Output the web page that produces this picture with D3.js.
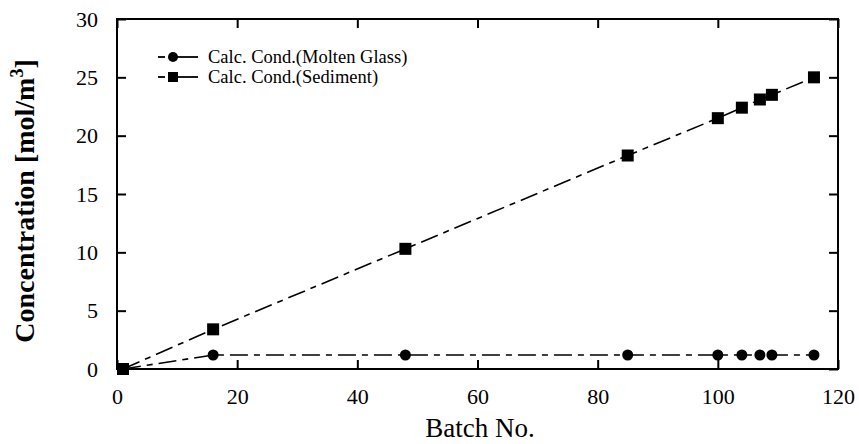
<!DOCTYPE html>
<html>
<head>
<meta charset="utf-8">
<script src="https://cdn.jsdelivr.net/npm/d3@7"></script>
<style>
  html, body { margin: 0; padding: 0; background: #fff; }
  svg { display: block; font-family: "Liberation Serif", "Times New Roman", serif; }
</style>
</head>
<body>
<svg id="chart" width="859" height="444"></svg>
<script>
// Batch numbers at which concentrations were calculated
const batches = [1, 16, 48, 85, 100, 104, 107, 109, 116];
// Calculated concentration in molten glass [mol/m3]
const moltenGlass = [0, 1.2, 1.2, 1.2, 1.2, 1.2, 1.2, 1.2, 1.2];
// Calculated concentration in sediment [mol/m3]
const sediment = [0, 3.4, 10.3, 18.3, 21.5, 22.4, 23.1, 23.5, 25.0];

const xTicks = [0, 20, 40, 60, 80, 100, 120];
const yTicks = [0, 5, 10, 15, 20, 25, 30];
const seriesNames = ["Calc. Cond.(Molten Glass)", "Calc. Cond.(Sediment)"];

const svg = d3.select("#chart");
const margin = { left: 117, right: 21, top: 19, bottom: 75 };
const W = 859, H = 444;
const x = d3.scaleLinear().domain([0, 120]).range([margin.left, W - margin.right]);
const y = d3.scaleLinear().domain([0, 30]).range([H - margin.bottom, margin.top]);

const tickLen = 9;
const serif = '"Liberation Serif", "Times New Roman", serif';

// Axes with inward ticks on all four sides
const gB = svg.append("g").attr("transform", `translate(0,${y(0)})`)
  .call(d3.axisBottom(x).tickValues(xTicks).tickSizeInner(-tickLen).tickSizeOuter(0).tickPadding(tickLen + 10));
const gT = svg.append("g").attr("transform", `translate(0,${y(30)})`)
  .call(d3.axisTop(x).tickValues(xTicks).tickSizeInner(-tickLen).tickSizeOuter(0).tickFormat(""));
const gL = svg.append("g").attr("transform", `translate(${x(0)},0)`)
  .call(d3.axisLeft(y).tickValues(yTicks).tickSizeInner(-tickLen).tickSizeOuter(0).tickPadding(tickLen + 10));
const gR = svg.append("g").attr("transform", `translate(${x(120)},0)`)
  .call(d3.axisRight(y).tickValues(yTicks).tickSizeInner(-tickLen).tickSizeOuter(0).tickFormat(""));

[gB, gT, gL, gR].forEach(g => {
  g.selectAll(".domain").remove();
  g.selectAll("line").attr("stroke", "#000").attr("stroke-width", 2);
  g.selectAll("text").attr("fill", "#000").style("font-size", "22px").style("font-family", serif);
});

// Frame
svg.append("rect")
  .attr("x", x(0)).attr("y", y(30))
  .attr("width", x(120) - x(0)).attr("height", y(0) - y(30))
  .attr("fill", "none").attr("stroke", "#000").attr("stroke-width", 2);

// Axis titles
svg.append("text")
  .attr("x", 480).attr("y", 437)
  .attr("text-anchor", "middle").style("font-size", "27px")
  .text("Batch No.");

const yt = svg.append("text")
  .attr("transform", `translate(34,201) rotate(-90)`)
  .attr("text-anchor", "middle").style("font-size", "28px").style("font-weight", "bold");
yt.append("tspan").text("Concentration [mol/m");
yt.append("tspan").attr("dy", -11).style("font-size", "18px").text("3");
yt.append("tspan").attr("dy", 11).text("]");

// Series lines
const dash = "18,6,6,6";
const line = d3.line().x(d => x(d[0])).y(d => y(d[1]));
const glassPts = batches.map((b, i) => [b, moltenGlass[i]]);
const sedPts = batches.map((b, i) => [b, sediment[i]]);

svg.append("path").datum(glassPts).attr("d", line)
  .attr("fill", "none").attr("stroke", "#000").attr("stroke-width", 1.6).attr("stroke-dasharray", dash);
svg.append("path").datum(sedPts).attr("d", line)
  .attr("fill", "none").attr("stroke", "#000").attr("stroke-width", 1.6).attr("stroke-dasharray", dash);

// Markers
svg.append("g").selectAll("circle").data(glassPts).join("circle")
  .attr("cx", d => x(d[0])).attr("cy", d => y(d[1])).attr("r", 5.5).attr("fill", "#000");
const sq = 12;
svg.append("g").selectAll("rect").data(sedPts).join("rect")
  .attr("x", d => x(d[0]) - sq / 2).attr("y", d => y(d[1]) - sq / 2)
  .attr("width", sq).attr("height", sq).attr("fill", "#000");

// Legend
const legend = svg.append("g").attr("transform", "translate(158,57)");
seriesNames.forEach((name, i) => {
  const g = legend.append("g").attr("transform", `translate(0,${i * 20})`);
  g.append("line").attr("x1", 0).attr("x2", 7).attr("y1", 0).attr("y2", 0)
    .attr("stroke", "#000").attr("stroke-width", 1.8);
  g.append("line").attr("x1", 12).attr("x2", 40).attr("y1", 0).attr("y2", 0)
    .attr("stroke", "#000").attr("stroke-width", 1.8);
  if (i === 0) {
    g.append("circle").attr("cx", 15).attr("cy", 0).attr("r", 5).attr("fill", "#000");
  } else {
    g.append("rect").attr("x", 10).attr("y", -5).attr("width", 10).attr("height", 10).attr("fill", "#000");
  }
  g.append("text").attr("x", 50).attr("y", 6).style("font-size", "18.5px").text(name);
});
</script>
</body>
</html>
